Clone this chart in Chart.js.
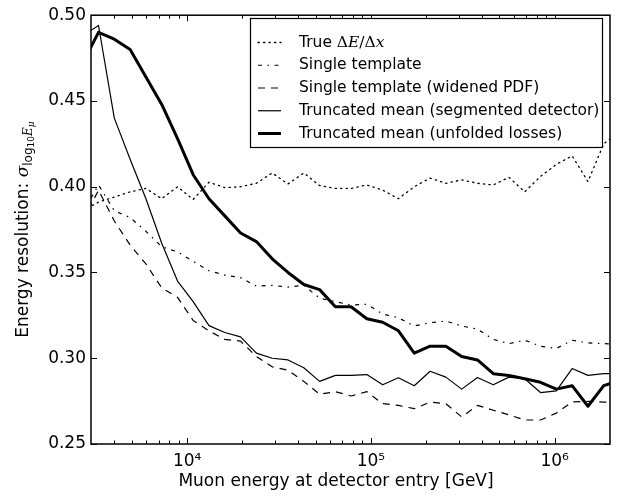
<!DOCTYPE html>
<html>
<head>
<meta charset="utf-8">
<script src="https://cdn.jsdelivr.net/npm/chart.js@4.4.1/dist/chart.umd.min.js"></script>
<style>
  html, body { margin: 0; padding: 0; background: #fff; }
  #wrap { width: 622px; height: 500px; }
</style>
</head>
<body>
<div id="wrap"><canvas id="chart"></canvas></div>
<script>
// log10 of muon energy [GeV] at each bin
const logEnergy = [3.432, 3.518, 3.604, 3.690, 3.776, 3.862, 3.948, 4.033, 4.119, 4.205,
  4.291, 4.377, 4.463, 4.549, 4.635, 4.721, 4.807, 4.892, 4.978, 5.064,
  5.150, 5.236, 5.322, 5.408, 5.494, 5.580, 5.666, 5.751, 5.837, 5.923,
  6.009, 6.095, 6.181, 6.267, 6.353];

// resolution curves
const trueDeDx = [0.386, 0.391, 0.394, 0.397, 0.399, 0.393, 0.400, 0.3926, 0.4026, 0.3995,
  0.400, 0.402, 0.408, 0.4016, 0.408, 0.4007, 0.399, 0.399, 0.401, 0.398,
  0.393, 0.400, 0.405, 0.402, 0.404, 0.402, 0.401, 0.4055, 0.397, 0.406,
  0.413, 0.418, 0.403, 0.425, 0.432];
const singleTemplate = [0.385, 0.401, 0.386, 0.382, 0.374, 0.365, 0.362, 0.3565, 0.351, 0.3485,
  0.347, 0.342, 0.3425, 0.3415, 0.3425, 0.335, 0.333, 0.331, 0.3315, 0.3258,
  0.3236, 0.3188, 0.3207, 0.3217, 0.3188, 0.317, 0.311, 0.3085, 0.3105, 0.307,
  0.3057, 0.3105, 0.309, 0.3085, 0.308];
const singleWidened = [0.380, 0.398, 0.380, 0.366, 0.355, 0.341, 0.3355, 0.322, 0.316, 0.311,
  0.310, 0.301, 0.295, 0.293, 0.2865, 0.279, 0.2805, 0.278, 0.2805, 0.2735,
  0.2725, 0.2706, 0.2744, 0.2735, 0.2658, 0.2725, 0.2697, 0.267, 0.264, 0.264,
  0.268, 0.2745, 0.2748, 0.2744, 0.2744];
const truncSegmented = [0.488, 0.494, 0.440, 0.416, 0.393, 0.367, 0.345, 0.333, 0.319, 0.315,
  0.3125, 0.303, 0.300, 0.299, 0.2945, 0.2865, 0.290, 0.290, 0.2905, 0.2845,
  0.2886, 0.284, 0.2924, 0.289, 0.282, 0.2888, 0.2845, 0.289, 0.288, 0.280,
  0.281, 0.294, 0.290, 0.291, 0.291];
const truncUnfolded = [0.472, 0.490, 0.486, 0.480, 0.464, 0.448, 0.428, 0.407, 0.393, 0.383,
  0.373, 0.368, 0.358, 0.350, 0.343, 0.340, 0.330, 0.330, 0.323, 0.321,
  0.316, 0.303, 0.307, 0.307, 0.301, 0.299, 0.291, 0.290, 0.288, 0.286,
  0.282, 0.284, 0.272, 0.284, 0.287];

const seriesNames = [
  'True ΔE/Δx',
  'Single template',
  'Single template (widened PDF)',
  'Truncated mean (segmented detector)',
  'Truncated mean (unfolded losses)'
];

const xMajorTicks = [1e4, 1e5, 1e6];
const xMinorTicks = [4e3, 5e3, 6e3, 7e3, 8e3, 9e3,
  2e4, 3e4, 4e4, 5e4, 6e4, 7e4, 8e4, 9e4,
  2e5, 3e5, 4e5, 5e5, 6e5, 7e5, 8e5, 9e5];
const yTicks = [0.25, 0.30, 0.35, 0.40, 0.45, 0.50];
const supDigits = { '4': '⁴', '5': '⁵', '6': '⁶' };

function toPoints(values) {
  return values.map((v, i) => ({ x: Math.pow(10, logEnergy[i]), y: v }));
}

const styles = [
  { borderWidth: 1.3, borderDash: [1.3, 4.2], borderCapStyle: 'round' },
  { borderWidth: 1.2, borderDash: [4, 5.5, 1.5, 5.5] },
  { borderWidth: 1.2, borderDash: [7, 6] },
  { borderWidth: 1.2, borderDash: [] },
  { borderWidth: 3, borderDash: [] }
];
const seriesValues = [trueDeDx, singleTemplate, singleWidened, truncSegmented, truncUnfolded];

const datasets = seriesValues.map((vals, i) => ({
  label: seriesNames[i],
  data: toPoints(vals),
  borderColor: '#000',
  backgroundColor: '#000',
  borderWidth: styles[i].borderWidth,
  borderDash: styles[i].borderDash,
  borderCapStyle: styles[i].borderCapStyle || 'butt',
  borderJoinStyle: 'round',
  pointRadius: 0,
  tension: 0,
  fill: false,
  clip: 0
}));

// draws frame, inward ticks, legend box and axis titles
const decorations = {
  id: 'decorations',
  afterDatasetsDraw(chart) {
    const { ctx, chartArea: a, scales: { x, y } } = chart;
    ctx.save();
    ctx.strokeStyle = '#000';
    ctx.fillStyle = '#000';
    ctx.setLineDash([]);
    ctx.lineWidth = 1;
    ctx.beginPath();
    yTicks.forEach(v => {
      const py = Math.round(y.getPixelForValue(v)) + 0.5;
      ctx.moveTo(a.left, py); ctx.lineTo(a.left + 6, py);
      ctx.moveTo(a.right, py); ctx.lineTo(a.right - 6, py);
    });
    xMajorTicks.forEach(v => {
      const px = Math.round(x.getPixelForValue(v)) + 0.5;
      ctx.moveTo(px, a.bottom); ctx.lineTo(px, a.bottom - 6);
      ctx.moveTo(px, a.top); ctx.lineTo(px, a.top + 6);
    });
    xMinorTicks.forEach(v => {
      const px = Math.round(x.getPixelForValue(v)) + 0.5;
      ctx.moveTo(px, a.bottom); ctx.lineTo(px, a.bottom - 3.5);
      ctx.moveTo(px, a.top); ctx.lineTo(px, a.top + 3.5);
    });
    ctx.stroke();

    ctx.lineWidth = 1.5;
    ctx.strokeRect(a.left, a.top, a.right - a.left, a.bottom - a.top);

    // legend
    const lx = 250, ly = 18, lw = 352, lh = 129;
    ctx.fillStyle = '#fff';
    ctx.fillRect(lx, ly, lw, lh);
    ctx.lineWidth = 1.2;
    ctx.strokeRect(lx + 0.5, ly + 0.5, lw, lh);
    ctx.fillStyle = '#000';
    ctx.textBaseline = 'middle';
    ctx.textAlign = 'left';
    const lf = 15.5;
    chart.data.datasets.forEach((ds, i) => {
      const ry = 42.5 + i * 22.75;
      ctx.lineWidth = ds.borderWidth;
      ctx.setLineDash(ds.borderDash);
      ctx.lineCap = ds.borderCapStyle;
      ctx.beginPath();
      ctx.moveTo(258, ry); ctx.lineTo(281, ry);
      ctx.stroke();
      ctx.setLineDash([]);
      if (i === 0) {
        const parts = [
          ['True ', lf + 'px "DejaVu Sans"'],
          ['Δ', lf + 'px "DejaVu Serif"'],
          ['E', 'italic ' + lf + 'px "DejaVu Serif"'],
          ['/Δ', lf + 'px "DejaVu Serif"'],
          ['x', 'italic ' + lf + 'px "DejaVu Serif"']
        ];
        let tx = 299;
        parts.forEach(([t, f]) => {
          ctx.font = f;
          ctx.fillText(t, tx, ry);
          tx += ctx.measureText(t).width;
        });
      } else {
        ctx.font = lf + 'px "DejaVu Sans"';
        ctx.fillText(ds.label, 299, ry);
      }
    });

    // x axis title
    ctx.textBaseline = 'alphabetic';
    ctx.textAlign = 'center';
    ctx.font = '17px "DejaVu Sans"';
    ctx.fillText('Muon energy at detector entry [GeV]', 336, 486);

    // y axis title with subscript
    ctx.textAlign = 'left';
    const parts = [
      ['Energy resolution: ', '17px "DejaVu Sans"', 0],
      ['σ', 'italic 17px "DejaVu Serif"', 0],
      ['log', '12px "DejaVu Sans"', 4],
      ['10', '9px "DejaVu Sans"', 6],
      ['E', 'italic 12px "DejaVu Serif"', 4],
      ['μ', 'italic 9px "DejaVu Serif"', 6]
    ];
    let total = 0;
    parts.forEach(([t, f]) => { ctx.font = f; total += ctx.measureText(t).width; });
    ctx.translate(28, (a.top + a.bottom) / 2);
    ctx.rotate(-Math.PI / 2);
    let sx = -total / 2;
    parts.forEach(([t, f, dy]) => {
      ctx.font = f;
      ctx.fillText(t, sx, dy);
      sx += ctx.measureText(t).width;
    });
    ctx.restore();
  }
};

new Chart(document.getElementById('chart'), {
  type: 'line',
  data: { datasets: datasets },
  options: {
    responsive: true,
    maintainAspectRatio: false,
    animation: false,
    events: [],
    layout: { padding: { top: 11, right: 12, left: 0, bottom: 0 } },
    plugins: {
      legend: { display: false },
      tooltip: { enabled: false }
    },
    scales: {
      x: {
        type: 'logarithmic',
        min: 3000,
        max: 2e6,
        grid: { display: false, drawTicks: false },
        border: { display: false },
        afterBuildTicks: scale => {
          scale.ticks = xMajorTicks.map(v => ({ value: v }));
        },
        afterFit: scale => { scale.height = 56; },
        ticks: {
          autoSkip: false,
          maxRotation: 0,
          padding: 7,
          color: '#000',
          font: { family: 'DejaVu Sans', size: 17 },
          callback: v => '10' + supDigits[String(Math.round(Math.log10(v)))]
        },
        title: { display: false }
      },
      y: {
        min: 0.25,
        max: 0.50,
        grid: { display: false, drawTicks: false },
        border: { display: false },
        afterBuildTicks: scale => {
          scale.ticks = yTicks.map(v => ({ value: v }));
        },
        afterFit: scale => { scale.width = 91; },
        ticks: {
          padding: 5,
          color: '#000',
          font: { family: 'DejaVu Sans', size: 17 },
          callback: v => v.toFixed(2)
        }
      }
    }
  },
  plugins: [decorations]
});
</script>
</body>
</html>
